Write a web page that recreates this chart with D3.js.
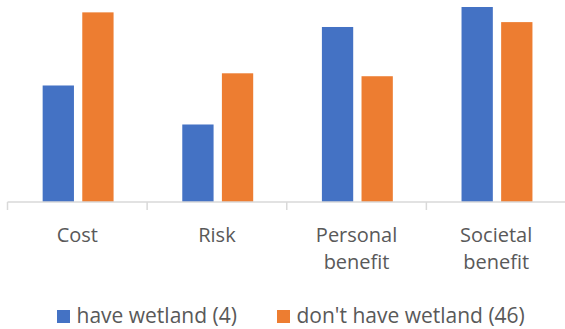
<!DOCTYPE html>
<html>
<head>
<meta charset="utf-8">
<script src="https://cdn.jsdelivr.net/npm/d3@7/dist/d3.min.js"></script>
<style>
  html, body { margin: 0; padding: 0; background: #fff; }
  svg { display: block; }
  text { font-family: "Open Sans", sans-serif; fill: #595959; }
</style>
</head>
<body>
<svg id="chart" width="565" height="329"></svg>
<script>
// Attitude scores by category, for respondents with and without a wetland
const categories = [["Cost"], ["Risk"], ["Personal", "benefit"], ["Societal", "benefit"]];
const seriesNames = ["have wetland (4)", "don't have wetland (46)"];
const haveWetland = [2.39, 1.59, 3.59, 4.00];
const noWetland = [3.89, 2.64, 2.58, 3.69];
const colors = ["#4472C4", "#ED7D31"];

const svg = d3.select("#chart");
const W = 565, baseY = 202;

const catKeys = categories.map(c => c.join(" "));
const x0 = d3.scaleBand().domain(catKeys).range([7.5, 566]).paddingInner(0).paddingOuter(0);
const x1 = d3.scaleBand().domain(seriesNames).range([0, x0.bandwidth()])
  .paddingInner(0.21).paddingOuter(0.867);
const y = d3.scaleLinear().domain([0, 4]).range([baseY, 7]);

const rows = catKeys.map((k, i) => ({ key: k, vals: [haveWetland[i], noWetland[i]] }));

// bars
const groups = svg.append("g").selectAll("g").data(rows).join("g")
  .attr("transform", d => `translate(${x0(d.key) + 0.8},0)`);
groups.selectAll("rect")
  .data(d => d.vals.map((v, j) => ({ name: seriesNames[j], v, j })))
  .join("rect")
  .attr("x", d => x1(d.name))
  .attr("width", x1.bandwidth())
  .attr("y", d => y(d.v))
  .attr("height", d => y(0) - y(d.v))
  .attr("fill", d => colors[d.j]);

// category axis
const axis = svg.append("g").attr("transform", `translate(0,${baseY})`)
  .call(d3.axisBottom(x0).tickSize(0).tickFormat(""));
axis.select(".domain").remove();
axis.append("line").attr("x1", 7.5).attr("x2", W).attr("y1", 0).attr("y2", 0)
  .attr("stroke", "#d9d9d9").attr("stroke-width", 1.5);
const bounds = catKeys.map(k => x0(k)).concat([x0.range()[1]]);
axis.selectAll(".sep").data(bounds).join("line").attr("class", "sep")
  .attr("x1", d => d).attr("x2", d => d).attr("y1", 0).attr("y2", 8)
  .attr("stroke", "#d9d9d9").attr("stroke-width", 1.5);

// category labels
const labels = svg.append("g").selectAll("text").data(categories).join("text")
  .attr("x", (d, i) => x0(catKeys[i]) + x0.bandwidth() / 2)
  .attr("y", 241.5)
  .attr("text-anchor", "middle")
  .style("font-size", "20px");
labels.selectAll("tspan").data(d => d).join("tspan")
  .attr("x", function () { return d3.select(this.parentNode).attr("x"); })
  .attr("dy", (d, i) => i === 0 ? 0 : 27.6)
  .text(d => d);

// legend
const legendPos = [57, 277];
const leg = svg.append("g").selectAll("g").data(seriesNames).join("g")
  .attr("transform", (d, i) => `translate(${legendPos[i]},310)`);
leg.append("rect").attr("width", 13).attr("height", 13).attr("fill", (d, i) => colors[i]);
leg.append("text").attr("x", 19.5).attr("y", 13).style("font-size", "21px").text(d => d);
</script>
</body>
</html>
